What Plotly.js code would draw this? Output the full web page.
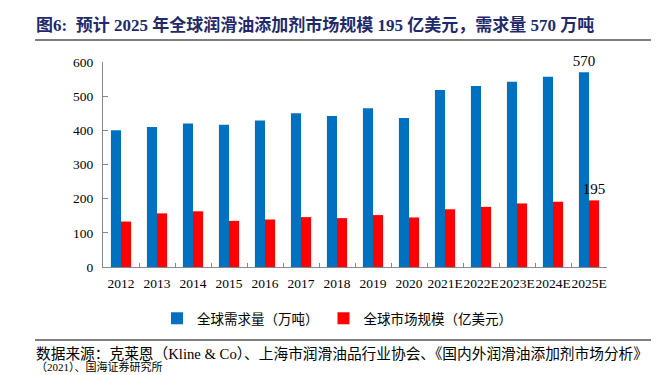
<!DOCTYPE html>
<html>
<head>
<meta charset="utf-8">
<script src="https://cdn.plot.ly/plotly-3.0.1.min.js"></script>
<style>
html,body{margin:0;padding:0;background:#fff;}
#chart{width:668px;height:375px;}
</style>
</head>
<body>
<div id="chart"></div>
<script>
const years = ["2012","2013","2014","2015","2016","2017","2018","2019","2020","2021E","2022E","2023E","2024E","2025E"];
const demand = [400,410,420,416,429,450,442,465,436,518,530,542,557,570];
const market = [133,157,163,135,139,146,143,152,145,169,176,186,191,195];
const demandName = "全球需求量（万吨）";
const marketName = "全球市场规模（亿美元）";
const titleText = "图6:  预计 2025 年全球润滑油添加剂市场规模 195 亿美元，需求量 570 万吨";
const sourceLine1 = "数据来源：克莱恩（Kline & Co）、上海市润滑油品行业协会、《国内外润滑油添加剂市场分析》";
const sourceLine2 = "（2021）、国海证券研究所";

const serif = "Liberation Serif, Noto Sans CJK SC, serif";

const lastOnly = arr => arr.map((v, i) => i === arr.length - 1 ? String(v) : "");

const traces = [
  {
    type: "bar", name: demandName, x: years, y: demand,
    marker: {color: "#0070C0"},
    text: lastOnly(demand), textposition: "outside", cliponaxis: false, constraintext: "none",
    textfont: {family: serif, size: 15, color: "#000"},
    hoverinfo: "x+y"
  },
  {
    type: "bar", name: marketName, x: years, y: market,
    marker: {color: "#FF0000"},
    text: lastOnly(market), textposition: "outside", cliponaxis: false, constraintext: "none",
    textfont: {family: serif, size: 15, color: "#000"},
    hoverinfo: "x+y"
  }
];

const L = 103, R = 61, T = 62, B = 108, W = 668, H = 375;
const pw = W - L - R, ph = H - T - B;
const px = x => (x - L) / pw;
const py = y => (H - B - y) / ph;

const layout = {
  width: W, height: H,
  margin: {l: L, r: R, t: T, b: B, pad: 0},
  paper_bgcolor: "#fff", plot_bgcolor: "#fff",
  barmode: "group", bargap: 0.44, bargroupgap: 0,
  font: {family: serif, size: 13, color: "#000"},
  xaxis: {
    type: "category", showline: true, linecolor: "#888", linewidth: 1,
    ticks: "inside", tickson: "boundaries", ticklen: 4, tickcolor: "#888",
    showgrid: false, zeroline: false, tickangle: 0, ticklabelstandoff: 4,
    tickfont: {family: serif, size: 13.5, color: "#000"}
  },
  yaxis: {
    range: [0, 600], dtick: 100, showline: true, linecolor: "#888", linewidth: 1,
    ticks: "inside", ticklen: 5, tickcolor: "#888",
    showgrid: false, zeroline: false, ticklabelstandoff: 6,
    tickfont: {family: serif, size: 13.5, color: "#000"}
  },
  showlegend: true,
  legend: {
    orientation: "h", xref: "paper", yref: "paper",
    x: px(157), y: py(303), xanchor: "left", yanchor: "top",
    font: {family: serif, size: 13.5, color: "#000"},
    itemwidth: 30, bgcolor: "rgba(0,0,0,0)"
  },
  annotations: [
    {xref: "paper", yref: "paper", x: px(34), y: py(25), xanchor: "left", yanchor: "middle",
     text: "<b>" + titleText + "</b>", showarrow: false,
     font: {family: serif, size: 17, color: "#1F2A6B"}},
    {xref: "paper", yref: "paper", x: px(34), y: py(354), xanchor: "left", yanchor: "middle",
     text: sourceLine1, showarrow: false,
     font: {family: serif, size: 14.7, color: "#000"}},
    {xref: "paper", yref: "paper", x: px(34), y: py(375), xanchor: "left", yanchor: "bottom",
     text: sourceLine2, showarrow: false,
     font: {family: serif, size: 11, color: "#000"}}
  ],
  shapes: [
    {type: "line", xref: "paper", yref: "paper", x0: px(35), x1: px(651), y0: py(40), y1: py(40),
     line: {color: "#7f7f7f", width: 2}},
    {type: "line", xref: "paper", yref: "paper", x0: px(35), x1: px(651), y0: py(340), y1: py(340),
     line: {color: "#7f7f7f", width: 2}}
  ]
};

Plotly.newPlot("chart", traces, layout, {displayModeBar: false, staticPlot: true});
</script>
</body>
</html>
